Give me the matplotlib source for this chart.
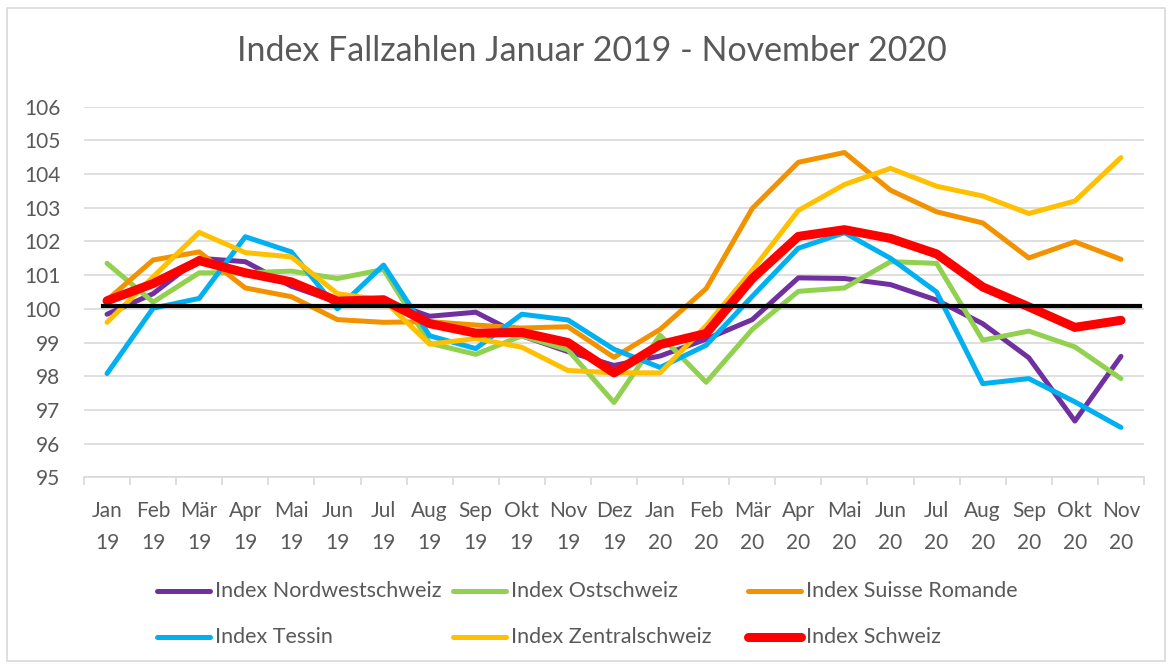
import matplotlib.pyplot as plt
from matplotlib.lines import Line2D
from matplotlib.patches import Rectangle
import numpy as np

plt.rcParams['font.family'] = ['Lato', 'DejaVu Sans']

months = ['Jan\n19', 'Feb\n19', 'Mär\n19', 'Apr\n19', 'Mai\n19', 'Jun\n19', 'Jul\n19',
          'Aug\n19', 'Sep\n19', 'Okt\n19', 'Nov\n19', 'Dez\n19', 'Jan\n20', 'Feb\n20',
          'Mär\n20', 'Apr\n20', 'Mai\n20', 'Jun\n20', 'Jul\n20', 'Aug\n20', 'Sep\n20',
          'Okt\n20', 'Nov\n20']

nordwest = [99.84, 100.45, 101.5, 101.4, 100.67, 100.2, 100.26, 99.78, 99.9, 99.2, 98.73, 98.32,
            98.6, 99.1, 99.68, 100.92, 100.9, 100.72, 100.26, 99.56, 98.55, 96.67, 98.59]
ost = [101.35, 100.2, 101.07, 101.07, 101.12, 100.9, 101.17, 98.98, 98.65, 99.2, 98.78, 97.22,
       99.22, 97.82, 99.39, 100.52, 100.62, 101.4, 101.35, 99.07, 99.34, 98.87, 97.93]
romande = [100.26, 101.45, 101.69, 100.62, 100.36, 99.68, 99.6, 99.62, 99.52, 99.43, 99.47, 98.56,
           99.39, 100.6, 102.98, 104.35, 104.64, 103.52, 102.88, 102.55, 101.51, 101.99, 101.47]
tessin = [98.08, 100.02, 100.31, 102.14, 101.69, 100.0, 101.3, 99.2, 98.82, 99.84, 99.67, 98.8,
          98.26, 98.92, 100.37, 101.8, 102.26, 101.5, 100.5, 97.78, 97.93, 97.24, 96.48]
zentral = [99.6, 100.95, 102.27, 101.67, 101.54, 100.45, 100.26, 98.95, 99.12, 98.86, 98.17, 98.1,
           98.1, 99.5, 101.15, 102.92, 103.69, 104.17, 103.64, 103.35, 102.83, 103.2, 104.49]
schweiz = [100.24, 100.75, 101.43, 101.07, 100.8, 100.23, 100.27, 99.56, 99.28, 99.3, 99.0, 98.1,
           98.94, 99.27, 100.9, 102.15, 102.35, 102.09, 101.63, 100.65, 100.06, 99.45, 99.66]
baseline = 100.07

series = [('Index Nordwestschweiz', nordwest, '#7030A0', 3.6),
          ('Index Ostschweiz', ost, '#92D050', 3.6),
          ('Index Suisse Romande', romande, '#F39200', 3.6),
          ('Index Tessin', tessin, '#00B0F0', 3.6),
          ('Index Zentralschweiz', zentral, '#FFC000', 3.6),
          ('Index Schweiz', schweiz, '#FF0000', 6.5)]

txt = '#595959'
grid = '#D9D9D9'

fig = plt.figure(figsize=(11.73, 6.66), dpi=100)
fig.patches.append(Rectangle((7 / 1173, 5 / 666), 1158 / 1173, 653 / 666, transform=fig.transFigure,
                             fill=False, edgecolor=grid, linewidth=1.2))

ax = fig.add_axes([84 / 1173, 188.7 / 666, 1060 / 1173, 370.6 / 666])
x = np.arange(len(months))
for name, vals, col, lw in series:
    ax.plot(x, vals, color=col, linewidth=lw, solid_capstyle='round', solid_joinstyle='round',
            label=name, zorder=3)
ax.axhline(baseline, xmin=0.018, xmax=0.996, color='black', linewidth=3, zorder=4)

ax.set_xlim(-0.5, len(months) - 0.5)
ax.set_ylim(95, 106)
ax.set_yticks(range(95, 107))
ax.grid(axis='y', color=grid, linewidth=1.2, zorder=0)
ax.set_axisbelow(True)
for s in ['top', 'right', 'left']:
    ax.spines[s].set_visible(False)
ax.spines['bottom'].set_color(grid)
ax.spines['bottom'].set_linewidth(1.2)

ax.set_xticks(x)
ax.set_xticklabels(months, linespacing=1.75)
ax.set_xticks(np.arange(-0.5, len(months)), minor=True)
ax.tick_params(axis='x', which='major', length=0, pad=17, labelsize=15, labelcolor=txt)
ax.tick_params(axis='x', which='minor', length=6, width=1.2, color=grid, direction='out')
ax.tick_params(axis='y', length=0, pad=17, labelsize=15, labelcolor=txt)

fig.text(592 / 1173, 1 - 51 / 666, 'Index Fallzahlen Januar 2019 - November 2020',
         ha='center', va='center', fontsize=24.5, color=txt)

# legend, laid out like the Excel one (3 columns, 2 rows)
col_x = [157, 453, 748]
row_y = [591, 637]
for i, (name, vals, col, lw) in enumerate(series):
    cx = col_x[i % 3]
    cy = row_y[i // 3]
    fig.add_artist(Line2D([cx / 1173, (cx + 53) / 1173], [1 - cy / 666, 1 - cy / 666],
                          color=col, linewidth=lw, solid_capstyle='round', transform=fig.transFigure))
    fig.text((cx + 58) / 1173, 1 - cy / 666, name, ha='left', va='center', fontsize=15.5, color=txt)

fig.savefig('out.png', dpi=100)
